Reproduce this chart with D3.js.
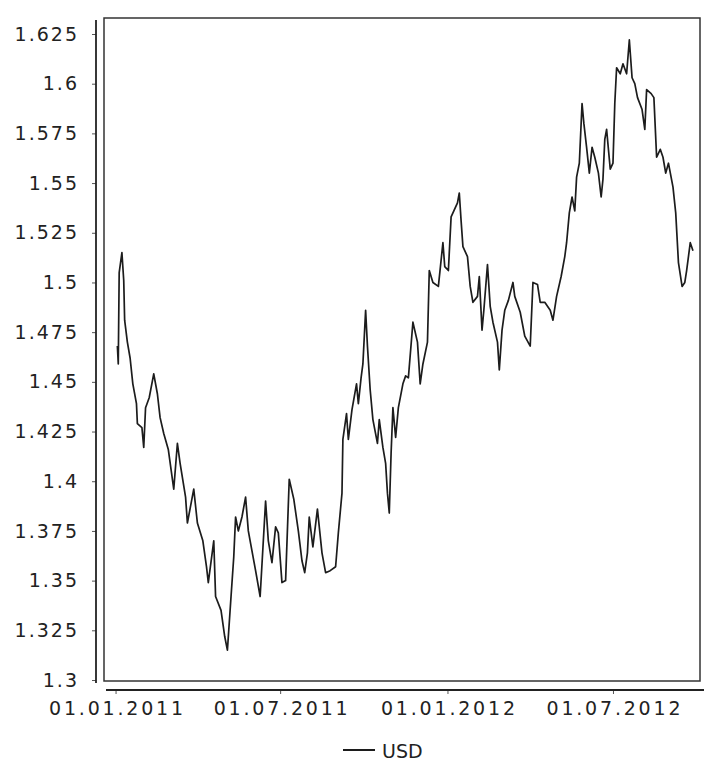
<!DOCTYPE html>
<html>
<head>
<meta charset="utf-8">
<script src="https://cdn.jsdelivr.net/npm/d3@7"></script>
<style>
  body { margin: 0; background: #fff; }
  text { font-family: "DejaVu Sans", sans-serif; fill: #222; }
</style>
</head>
<body>
<script>
  // USD series
  const dates = [
    "2011-01-03","2011-01-04","2011-01-05","2011-01-08","2011-01-10","2011-01-11","2011-01-14","2011-01-17",
    "2011-01-20","2011-01-24","2011-01-25","2011-01-30","2011-02-01","2011-02-03","2011-02-07","2011-02-12",
    "2011-02-16","2011-02-19","2011-02-23","2011-02-28","2011-03-06","2011-03-10","2011-03-13","2011-03-19",
    "2011-03-21","2011-03-28","2011-04-01","2011-04-07","2011-04-11","2011-04-13","2011-04-19","2011-04-21",
    "2011-04-27","2011-05-01","2011-05-04","2011-05-08","2011-05-11","2011-05-13","2011-05-16","2011-05-20",
    "2011-05-24","2011-05-27","2011-05-29","2011-06-04","2011-06-09","2011-06-15","2011-06-18","2011-06-22",
    "2011-06-26","2011-06-29","2011-07-03","2011-07-07","2011-07-11","2011-07-16","2011-07-21","2011-07-25",
    "2011-07-28","2011-07-31","2011-08-02","2011-08-06","2011-08-11","2011-08-16","2011-08-20","2011-08-25",
    "2011-08-31","2011-09-03","2011-09-07","2011-09-08","2011-09-12","2011-09-14","2011-09-18","2011-09-23",
    "2011-09-25","2011-09-28","2011-09-30","2011-10-03","2011-10-05","2011-10-08","2011-10-11","2011-10-16",
    "2011-10-18","2011-10-22","2011-10-25","2011-10-27","2011-10-29","2011-10-31","2011-11-02","2011-11-05",
    "2011-11-08","2011-11-13","2011-11-16","2011-11-19","2011-11-24","2011-11-29","2011-12-02","2011-12-05",
    "2011-12-10","2011-12-12","2011-12-16","2011-12-22","2011-12-27","2011-12-29","2012-01-02","2012-01-05",
    "2012-01-08","2012-01-12","2012-01-14","2012-01-16","2012-01-18","2012-01-23","2012-01-26","2012-01-29",
    "2012-02-03","2012-02-05","2012-02-08","2012-02-10","2012-02-14","2012-02-17","2012-02-20","2012-02-25",
    "2012-02-27","2012-03-01","2012-03-04","2012-03-08","2012-03-13","2012-03-15","2012-03-21","2012-03-26",
    "2012-04-01","2012-04-04","2012-04-09","2012-04-12","2012-04-17","2012-04-23","2012-04-26","2012-04-30",
    "2012-05-05","2012-05-09","2012-05-11","2012-05-14","2012-05-17","2012-05-20","2012-05-22","2012-05-25",
    "2012-05-28","2012-05-30","2012-06-02","2012-06-05","2012-06-08","2012-06-11","2012-06-15","2012-06-18",
    "2012-06-20","2012-06-22","2012-06-24","2012-06-28","2012-07-01","2012-07-03","2012-07-05","2012-07-09",
    "2012-07-12","2012-07-16","2012-07-19","2012-07-22","2012-07-25","2012-07-28","2012-08-02","2012-08-05",
    "2012-08-07","2012-08-12","2012-08-15","2012-08-18","2012-08-22","2012-08-25","2012-08-28","2012-08-31",
    "2012-09-05","2012-09-08","2012-09-11","2012-09-15","2012-09-18","2012-09-20","2012-09-24","2012-09-27"
  ];
  const usd = [
    1.468,1.459,1.505,1.515,1.501,1.481,1.470,1.462,
    1.449,1.439,1.429,1.427,1.417,1.437,1.442,1.454,
    1.444,1.432,1.424,1.416,1.396,1.419,1.409,1.392,
    1.379,1.396,1.379,1.370,1.357,1.349,1.370,1.342,
    1.335,1.322,1.315,1.342,1.362,1.382,1.375,1.382,
    1.392,1.375,1.370,1.355,1.342,1.390,1.370,1.359,
    1.377,1.374,1.349,1.350,1.401,1.391,1.375,1.360,
    1.354,1.364,1.382,1.367,1.386,1.364,1.354,1.355,
    1.357,1.374,1.394,1.421,1.434,1.421,1.436,1.449,
    1.439,1.452,1.459,1.486,1.468,1.446,1.431,1.419,
    1.431,1.417,1.409,1.394,1.384,1.414,1.437,1.422,
    1.437,1.449,1.453,1.452,1.480,1.470,1.449,1.459,
    1.470,1.506,1.500,1.498,1.520,1.508,1.506,1.533,
    1.536,1.540,1.545,1.531,1.518,1.513,1.498,1.490,
    1.493,1.503,1.476,1.486,1.509,1.488,1.480,1.470,
    1.456,1.476,1.486,1.491,1.500,1.493,1.485,1.473,
    1.468,1.500,1.499,1.490,1.490,1.486,1.481,1.493,
    1.503,1.513,1.520,1.535,1.543,1.536,1.553,1.560,
    1.590,1.580,1.568,1.555,1.568,1.563,1.555,1.543,
    1.552,1.572,1.577,1.557,1.560,1.590,1.608,1.605,
    1.610,1.605,1.622,1.603,1.600,1.593,1.587,1.577,
    1.597,1.595,1.593,1.563,1.567,1.563,1.555,1.560,
    1.548,1.535,1.510,1.498,1.500,1.506,1.520,1.516
  ];

  const yTicks = [1.625, 1.6, 1.575, 1.55, 1.525, 1.5, 1.475, 1.45, 1.425, 1.4, 1.375, 1.35, 1.325, 1.3];
  const xTickDates = ["2011-01-01", "2011-07-01", "2012-01-01", "2012-07-01"];
  const xTickLabels = ["01.01.2011", "01.07.2011", "01.01.2012", "01.07.2012"];
  const seriesName = "USD";

  const W = 704, H = 761;
  const parse = d3.timeParse("%Y-%m-%d");
  const data = dates.map((d, i) => ({ date: parse(d), value: usd[i] }));

  const x = d3.scaleTime()
    .domain([parse("2010-12-16"), parse("2012-10-08")])
    .range([101, 703]);
  const y = d3.scaleLinear()
    .domain([1.3, 1.625])
    .range([680, 34]);

  const svg = d3.select("body").append("svg")
    .attr("width", W)
    .attr("height", H);

  // plot frame
  svg.append("rect")
    .attr("x", 104).attr("y", 18)
    .attr("width", 596).attr("height", 663)
    .attr("fill", "none")
    .attr("stroke", "#333")
    .attr("stroke-width", 1.5);

  // y axis
  const yAxis = svg.append("g")
    .attr("transform", "translate(96,0)")
    .call(d3.axisLeft(y).tickValues(yTicks).tickFormat(d => String(d)).tickSize(4).tickSizeOuter(0));
  yAxis.select(".domain").remove();
  yAxis.append("line")
    .attr("x1", 0).attr("x2", 0).attr("y1", 20).attr("y2", 683)
    .attr("stroke", "#222").attr("stroke-width", 1.8);
  yAxis.selectAll(".tick line").attr("stroke", "#555");
  yAxis.selectAll(".tick text")
    .attr("x", -17)
    .style("font-size", "19px")
    .style("letter-spacing", "2px")
    .attr("fill", "#222");

  // x axis
  const xAxis = svg.append("g")
    .attr("transform", "translate(0,690)")
    .call(d3.axisBottom(x)
      .tickValues(xTickDates.map(parse))
      .tickFormat((d, i) => xTickLabels[i])
      .tickSize(4).tickSizeOuter(0));
  xAxis.select(".domain").remove();
  xAxis.append("line")
    .attr("x1", 106).attr("x2", 704).attr("y1", 0).attr("y2", 0)
    .attr("stroke", "#222").attr("stroke-width", 1.8);
  xAxis.selectAll(".tick line").attr("stroke", "#555");
  xAxis.selectAll(".tick text")
    .attr("y", 12)
    .attr("dx", 1.4)
    .style("font-size", "19px")
    .style("letter-spacing", "2.8px")
    .attr("fill", "#222");

  // the series
  const line = d3.line()
    .x(d => x(d.date))
    .y(d => y(d.value));

  svg.append("path")
    .datum(data)
    .attr("d", line)
    .attr("fill", "none")
    .attr("stroke", "#1c1c1c")
    .attr("stroke-width", 1.7)
    .attr("stroke-linejoin", "round");

  // legend
  const legend = svg.append("g").attr("transform", "translate(343,750)");
  legend.append("line")
    .attr("x1", 0).attr("x2", 32).attr("y1", 0).attr("y2", 0)
    .attr("stroke", "#1c1c1c").attr("stroke-width", 2);
  legend.append("text")
    .attr("x", 39).attr("y", 8)
    .style("font-size", "19px")
    .text(seriesName);
</script>
</body>
</html>
